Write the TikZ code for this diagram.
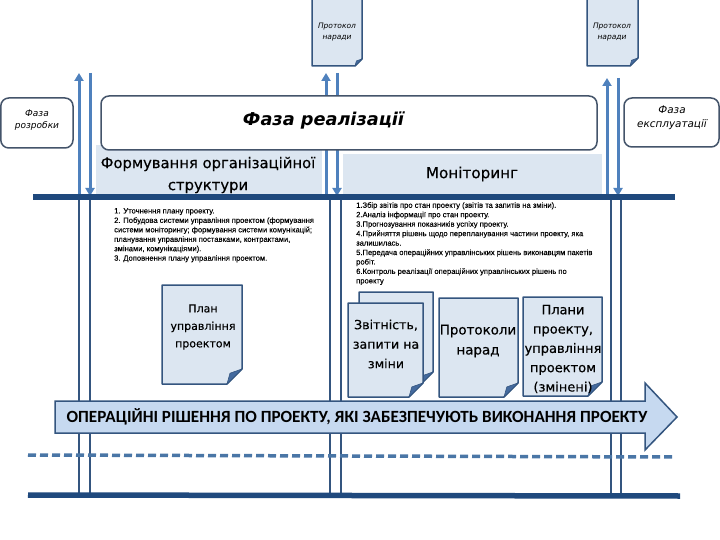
\documentclass[tikz,border=0pt]{standalone}
\usepackage{fontspec}
\setmainfont{DejaVu Sans}
\newfontfamily\semifont[FakeBold=0.35]{DejaVu Sans}
\newfontfamily\smallfont[FakeBold=0.15]{Liberation Sans}
\newfontfamily\bannerfont{Carlito}
\usetikzlibrary{arrows.meta}
\definecolor{docfill}{HTML}{DCE6F1}
\definecolor{docline}{HTML}{34557F}
\definecolor{foldc}{HTML}{446A9E}
\definecolor{steel}{HTML}{4F81BD}
\definecolor{barc}{HTML}{1F497D}
\definecolor{phaseline}{HTML}{44546A}
\definecolor{bannerfill}{HTML}{C6D9F0}
\definecolor{dashc}{HTML}{4A76A6}
\tikzset{
  docbody/.style={fill=docfill,draw=docline,line width=1.5pt,line join=round},
  foldpart/.style={fill=foldc,draw=docline,line width=.6pt,line join=round},
  phasebox/.style={draw=phaseline,line width=1.5pt,fill=white,rounded corners=8pt},
  phasetext/.style={font=\itshape\fontsize{9}{12}\selectfont,align=center,text=black},
  panel/.style={fill=docfill,draw=none},
  headtext/.style={font=\semifont\fontsize{14.8}{22}\selectfont,align=center,text=black},
  doctext/.style={font=\semifont\fontsize{11}{17.5}\selectfont,align=center,text=black},
  doctextb/.style={font=\semifont\fontsize{12.6}{19.5}\selectfont,align=center,text=black},
  minitext/.style={font=\itshape\fontsize{7.5}{11}\selectfont,align=center,text=black},
  listtext/.style={font=\smallfont\fontsize{7.6}{9.45}\selectfont,align=left,anchor=north west,inner sep=0pt,text=black},
  upflow/.style={draw=steel,line width=3pt,-{Triangle[width=9pt,length=8pt]}},
  downflow/.style={draw=steel,line width=3pt,-{Triangle[width=9pt,length=8pt]}},
  thinrail/.style={draw=docline,line width=1.3pt},
  mainbar/.style={draw=barc,line width=5.5pt},
  dashbar/.style={draw=dashc,line width=3.5pt,dash pattern=on 8pt off 4pt},
}
\newcommand{\docsheet}[5]{% x1 y1 x2 y2 fold
  \draw[docbody] (#1,#2) -- (#3,#2) -- (#3,#4-#5) -- (#3-#5,#4) -- (#1,#4) -- cycle;
  \draw[foldpart] (#3,#4-#5) -- (#3-#5,#4) -- (#3-0.8*#5,#4-0.72*#5) -- cycle;
}
\begin{document}
\begin{tikzpicture}[x=1pt,y=-1pt]
\useasboundingbox[fill=white] (0,0) rectangle (720,540);

% named rail ends
\coordinate (a1t) at (79,73);   \coordinate (a1b) at (79,195);
\coordinate (a2t) at (90,73);   \coordinate (a2b) at (90,196);
\coordinate (a3t) at (326,73);  \coordinate (a3b) at (326,195);
\coordinate (a4t) at (337,73);  \coordinate (a4b) at (337,196);
\coordinate (a5t) at (607,78);  \coordinate (a5b) at (607,195);
\coordinate (a6t) at (618,78);  \coordinate (a6b) at (618,196);
\coordinate (r1t) at (79,198);  \coordinate (r1b) at (79,495);
\coordinate (r2t) at (90,198);  \coordinate (r2b) at (90,495);
\coordinate (r3t) at (330,198); \coordinate (r3b) at (330,495);
\coordinate (r4t) at (341,198); \coordinate (r4b) at (341,495);
\coordinate (r5t) at (611,198); \coordinate (r5b) at (611,495);
\coordinate (r6t) at (621,198); \coordinate (r6b) at (621,495);
\coordinate (dashL) at (28,455); \coordinate (dashR) at (675,457);
\coordinate (solidL) at (28,495); \coordinate (solidR) at (680,496);
\coordinate (barL) at (33,197);  \coordinate (barR) at (675,197);

% panels
\fill[panel] (96,145) rectangle (322,195);
\fill[panel] (343,154) rectangle (602,195);

% rails below the bar
\foreach \n in {1,...,6} \draw[thinrail] (r\n t) -- (r\n b);

% flows
\draw[upflow] (a1b) -- (a1t);
\draw[downflow] (a2t) -- (a2b);
\draw[upflow] (a3b) -- (a3t);
\draw[downflow] (a4t) -- (a4b);
\draw[upflow] (a5b) -- (a5t);
\draw[downflow] (a6t) -- (a6b);

\draw[mainbar] (barL) -- (barR);
\draw[dashbar] (dashL) -- (dashR);
\draw[mainbar] (solidL) -- (solidR);

% phases
\draw[phasebox] (0.8,98) rectangle (73,148);
\node[phasetext] (devtext) at (37,120) {Фаза\\розробки};
\draw[phasebox] (101,96) rectangle (597,150);
\node[font=\bfseries\itshape\fontsize{17.7}{20}\selectfont,text=black] (impl) at (323.5,120) {Фаза реалізації};
\draw[phasebox] (624,98) rectangle (719,147);
\node[phasetext,font=\itshape\fontsize{10.4}{14}\selectfont] (opstext) at (672,118) {Фаза\\експлуатації};

\node[headtext] (form) at (208,175) {Формування організаційної\\структури};
\node[headtext,font=\semifont\fontsize{15.2}{22}\selectfont] (mon) at (472,174) {Моніторинг};

% top protocols
\docsheet{312}{-2}{362}{66}{7}
\node[minitext] (p1) at (337,32) {Протокол\\наради};
\docsheet{587}{-2}{638}{66}{8}
\node[minitext] (p2) at (612,32) {Протокол\\наради};

% lists
\node[listtext] (l1) at (114,208) {1. Уточнення плану проекту.\\
2. Побудова системи управління проектом (формування\\
системи моніторингу; формування системи комунікацій;\\
планування управління поставками, контрактами,\\
змінами, комунікаціями).\\
3. Доповнення плану управління проектом.};
\node[listtext] (l2) at (356,202) {1.Збір звітів про стан проекту (звітів та запитів на зміни).\\
2.Аналіз інформації про стан проекту.\\
3.Прогнозування показників успіху проекту.\\
4.Прийняття рішень щодо перепланування частини проекту, яка\\
залишилась.\\
5.Передача операційних управлінських рішень виконавцям пакетів\\
робіт.\\
6.Контроль реалізації операційних управлінських рішень по\\
проекту};

% documents
\docsheet{162}{285}{242}{384}{15}
\node[doctext] (plan) at (203,327) {План\\управління\\проектом};
\docsheet{359}{292}{433}{386}{14}
\docsheet{348}{303}{423}{397}{14}
\node[doctextb] (rep) at (386,344) {Звітність,\\запити на\\зміни};
\docsheet{439}{298}{518}{397}{14}
\node[doctextb,font=\semifont\fontsize{13.4}{20}\selectfont] (prot) at (478,341) {Протоколи\\нарад};
\docsheet{523}{297}{602}{396}{14}
\node[doctextb,font=\semifont\fontsize{13}{19.3}\selectfont] (plans) at (563,349) {Плани\\проекту,\\управління\\проектом\\(змінені)};

% banner arrow
\draw[fill=bannerfill,draw=docline,line width=1.5pt,line join=miter]
  (55,401) -- (645,401) -- (645,383) -- (677,417) -- (645,450) -- (645,433) -- (55,433) -- cycle;
\node[font=\bannerfont\bfseries\fontsize{17.1}{18}\selectfont,text=black] (banner) at (357,417) {ОПЕРАЦІЙНІ РІШЕННЯ ПО ПРОЕКТУ, ЯКІ ЗАБЕЗПЕЧУЮТЬ ВИКОНАННЯ ПРОЕКТУ};
\end{tikzpicture}
\end{document}
